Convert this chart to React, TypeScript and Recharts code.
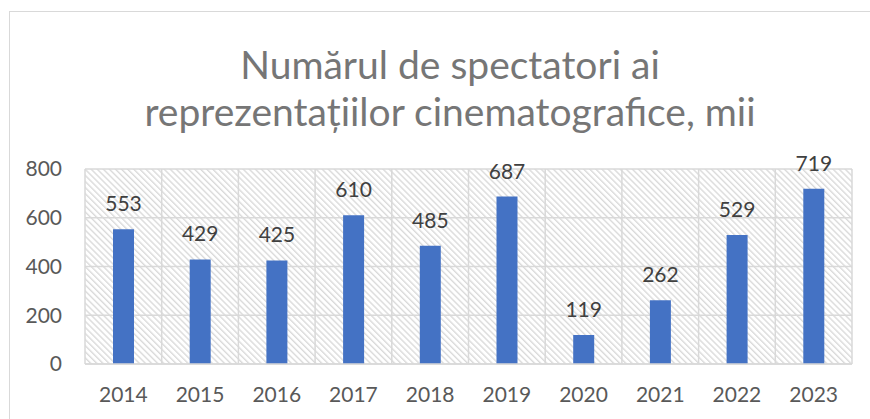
import { Bar, BarChart, CartesianGrid, LabelList, XAxis, YAxis } from "recharts";

const years = ["2014", "2015", "2016", "2017", "2018", "2019", "2020", "2021", "2022", "2023"];
const spectators = [553, 429, 425, 610, 485, 687, 119, 262, 529, 719];
const yTicks = [0, 200, 400, 600, 800];
const titleLines = ["Numărul de spectatori ai", "reprezentațiilor cinematografice, mii"];

const data = years.map((year, i) => ({ year, value: spectators[i] }));

const FONT = "Lato, 'Open Sans', sans-serif";
const GRID = "#d9d9d9";

export default function App() {
  return (
    <div style={{ position: "absolute", left: 0, top: 0, width: 870, height: 419, overflow: "hidden", background: "#fff" }}>
      <svg width={0} height={0} style={{ position: "absolute" }}>
        <defs>
          <pattern id="hatch" patternUnits="userSpaceOnUse" width={4.3} height={4.3} patternTransform="rotate(-45)">
            <rect x={0} y={0} width={1.4} height={4.3} fill="#dadada" />
          </pattern>
        </defs>
      </svg>
      <div
        style={{
          position: "absolute",
          left: 9,
          top: 11,
          width: 861,
          height: 408,
          boxSizing: "border-box",
          borderTop: `1px solid ${GRID}`,
          borderLeft: `1px solid ${GRID}`,
        }}
      />
      <div style={{ position: "absolute", left: 0, top: 0 }}>
        <BarChart width={870} height={419} data={data} margin={{ top: 169, right: 18, bottom: 0, left: 25 }} barCategoryGap={0}>
          <CartesianGrid
            stroke={GRID}
            strokeWidth={1.5}
            fill="url(#hatch)"
            fillOpacity={1}
            verticalCoordinatesGenerator={({ offset }: any) =>
              years.concat("").map((_, i) => offset.left + (i * offset.width) / years.length)
            }
          />
          <XAxis
            dataKey="year"
            height={55}
            axisLine={{ stroke: GRID, strokeWidth: 1.5 }}
            tickLine={false}
            tickSize={0}
            tickMargin={23}
            tick={{ fill: "#595959", fontSize: 21, fontFamily: FONT }}
          />
          <YAxis
            width={60}
            domain={[0, 800]}
            ticks={yTicks}
            axisLine={false}
            tickLine={false}
            tickSize={0}
            tickMargin={23}
            tick={{ fill: "#595959", fontSize: 21, fontFamily: FONT }}
          />
          <Bar dataKey="value" fill="#4472c4" barSize={21} isAnimationActive={false}>
            <LabelList dataKey="value" position="top" offset={18} fill="#404040" fontSize={21} fontFamily={FONT} />
          </Bar>
        </BarChart>
      </div>
      <svg width={870} height={419} style={{ position: "absolute", left: 0, top: 0, pointerEvents: "none" }}>
        {titleLines.map((line, i) => (
          <text key={i} x={450} y={79 + i * 47} textAnchor="middle" fill="#767676" fontSize={39} fontFamily={FONT}>
            {line}
          </text>
        ))}
      </svg>
    </div>
  );
}
